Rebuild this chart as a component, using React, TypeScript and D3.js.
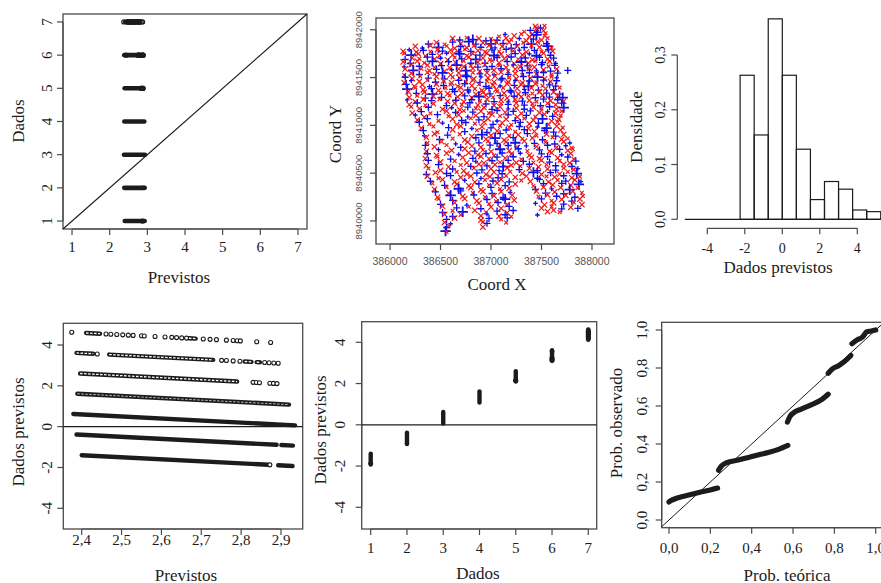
import React from "react";
import * as d3 from "d3";

const SERIF = "'Liberation Serif', 'Times New Roman', serif";
const SANS = "'Liberation Sans', Arial, sans-serif";
const INK = "#1c1c1c";
const FRAME = "#4a4a4a";

// ---------- shared data: observed class (Dados) vs predicted value (Previstos)
const dadosLevels = [1, 2, 3, 4, 5, 6, 7];
// continuous runs of predictions: [dados, previsto from, previsto to]
const denseRuns: [number, number, number][] = [
  [1, 2.4, 2.868], [1, 2.893, 2.929],
  [2, 2.387, 2.889], [2, 2.901, 2.93],
  [3, 2.379, 2.935],
  [4, 2.389, 2.92],
  [5, 2.396, 2.79],
  [6, 2.387, 2.429], [6, 2.469, 2.73], [6, 2.809, 2.826], [6, 2.839, 2.847],
  [7, 2.411, 2.446], [7, 2.669, 2.686],
];
// isolated predictions: [dados, previsto]
const loosePoints: [number, number][] = [
  [1, 2.872],
  [5, 2.83], [5, 2.838], [5, 2.846], [5, 2.872], [5, 2.881], [5, 2.89],
  [6, 2.439], [6, 2.751], [6, 2.763], [6, 2.78], [6, 2.797], [6, 2.859], [6, 2.87], [6, 2.882], [6, 2.893],
  [7, 2.375], [7, 2.461], [7, 2.473], [7, 2.488], [7, 2.503], [7, 2.517], [7, 2.529], [7, 2.55], [7, 2.557],
  [7, 2.584], [7, 2.609], [7, 2.626], [7, 2.638], [7, 2.651], [7, 2.663], [7, 2.705], [7, 2.722], [7, 2.738],
  [7, 2.763], [7, 2.78], [7, 2.79], [7, 2.798], [7, 2.839], [7, 2.874],
];

// ---------- histogram of residuals
const histBreaks = [-2.25, -1.5, -0.75, 0, 0.75, 1.5, 2.25, 3, 3.75, 4.5, 5.25];
const histDensity = [0.263, 0.154, 0.366, 0.263, 0.128, 0.036, 0.069, 0.055, 0.017, 0.014];

// ---------- probability plot runs [teórica, observado]
const probRuns: [number, number][][] = [
  [[0, 0.095], [0.01, 0.102], [0.03, 0.112], [0.06, 0.122], [0.1, 0.133], [0.15, 0.146], [0.2, 0.158], [0.235, 0.168]],
  [[0.24, 0.262], [0.255, 0.285], [0.28, 0.302], [0.33, 0.314], [0.38, 0.328], [0.43, 0.342], [0.48, 0.355], [0.53, 0.372], [0.575, 0.393]],
  [[0.573, 0.515], [0.585, 0.545], [0.6, 0.562], [0.64, 0.584], [0.69, 0.607], [0.74, 0.635], [0.77, 0.662]],
  [[0.77, 0.772], [0.79, 0.795], [0.82, 0.812], [0.85, 0.835], [0.88, 0.866]],
  [[0.885, 0.928], [0.91, 0.948], [0.935, 0.962], [0.945, 0.975], [0.955, 0.99], [0.98, 0.995], [1.0, 1.0]],
];

// ---------- spatial map: rows of north offset; tokens "eastOffset class(r/b) size northAdjust"
const EAST0 = 386000;
const NORTH0 = 8940000;
const scatterRows: [number, string][] = [
  [2030, "1440r2+5 1490b2-12 1530r1+10"],
  [2000, "1390b2-6 1450r2+14 1520r2-9"],
  [1970, "1330r1+9 1410r2-14 1460b2+4 1540r1-7"],
  [1940, "1080r1-10 1140b1+12 1230r2-4 1300r1+15 1380r2-13 1450b3+6 1530r1-2"],
  [1900, "620r2+11 690b2-7 760r1+16 820b3-3 880r2+8 950b2-15 1000r1+4 1060b2-10 1150r2+13 1200r1-5 1280b1+9 1350r2-16 1420b2+2 1500r2-8 1560r1+12"],
  [1860, "380b2-9 460r2+6 540r1-14 620b2+10 700r2-4 780b3+15 850b2-11 920r2+3 1000b3-7 1050r2+13 1120b2-2 1180r2+9 1250b2-15 1320r1+5 1400b3-10 1460r2+14 1550b2-6"],
  [1820, "250r2+7 320b1-12 400r2+15 480b3-5 560r1+10 640r2-14 700b2+3 760r2-8 830r1+12 900b2-3 980r2+16 1040b1-10 1110r2+5 1200b2-13 1260r2+9 1330b2-6 1400r1+14 1480r2-2 1560b3+8 1600r1-11"],
  [1780, "130r2-5 190b1+11 260r2-15 330b2+4 400r1-9 470r2+13 520b2-3 600r2+8 680b2-12 740r1+16 800b2-6 870r2+2 940r2-14 1010b2+10 1080r1-7 1150b2+15 1220r2-1 1280b1+7 1350r2-13 1430b2+5 1500r1-10 1570b2+12 1610r2-4"],
  [1740, "140r1+13 210b3-6 280r2+9 350r1-15 420b2+3 490r2-10 560b1+14 620r2-2 690b3+7 760r2-13 820r1+11 890b2-5 960r2+16 1030b3-9 1100r2+4 1170r1-14 1240b2+10 1310r2-3 1380b1+8 1450b3-12 1520r2+15 1590b2-7"],
  [1700, "150b2-11 220r2+6 290r1-4 370b2+14 440r2-8 500b1+2 570r2-15 640r1+10 710b2-5 780r2+13 850b3-10 920r2+4 990r1-13 1060b2+9 1130r2-2 1200b2+15 1270r1-9 1340b2+5 1410r2-14 1480b2+11 1560r2-6 1620b2+3"],
  [1660, "130r2+4 200b2-13 270r2+12 340r1-7 420b3+9 500r2-15 580b2+6 650r2-3 730r1+14 800b2-10 870r2+1 940b2-12 1010r1+16 1080r2-6 1160b2+8 1230r2-14 1300b3+3 1370r2-9 1440r1+13 1510b2-4 1580r2+10 1640b1-12"],
  [1620, "140b1-8 210r2+15 290b2-2 370r2+9 440r1-12 510b2+5 590r2-16 660b3+11 730r2-6 800r1+3 870b2-11 940r2+14 1010b2-4 1080r1+8 1150r2-14 1220b1+12 1290r2-7 1360b2+2 1430r2-10 1500b2+15 1570r1-3 1630b2+7"],
  [1580, "150r2+10 230b3-4 310r1+13 390r2-9 460b2+6 540r2-14 610b1+2 680r2+11 750b3-8 820r2+15 890r1-12 960b2+5 1030r2-3 1100b2+12 1170r1-15 1240r2+8 1310b2-6 1380r2+14 1450b1-10 1520r2+1 1590b2-13 1650r2+9 1760b2-5"],
  [1540, "140r1-13 210r2+5 290b2-8 370r2+14 440r1-3 520b3+10 600r2-12 680r2+7 750b2-15 820r1+12 890b2-1 960r2+9 1030b1-11 1100r2+16 1170b2-6 1240r2+3 1310r1-14 1380b2+10 1450r2-5 1520b2+13 1600r1-9 1660b2+6"],
  [1500, "150b2+3 220r2-10 300r1+14 380b2-6 460r2+9 540b2-13 620r1+5 690r2-2 760b3+12 830r2-15 900b1+7 970r2-4 1040r2+15 1110b2-9 1180r1+2 1250r2-12 1320b2+11 1390r2-7 1460b3+4 1530r2-14 1600r1+10 1650b1-3"],
  [1460, "140r2-14 210b1+8 290r2-1 370r1+12 450b2-9 530r2+5 610r2-15 680b2+10 750r1-4 820r2+14 890b2-11 960r1+3 1030r2-8 1100b2+16 1170r2-6 1240b1+9 1310r2-13 1380b2+4 1450r1-10 1520b2+13 1590r2-2 1650b2+7"],
  [1420, "160b2+9 240r2-11 320r2+4 390b1-15 460r2+12 530b2-3 600r1+7 670r2-12 740b2+15 810r2-5 880r1+10 950b2-14 1020r2+2 1090b1-8 1160r2+13 1230b2-1 1300r2+6 1370b3-11 1440r2+15 1510r1-6 1580b2+3 1640b2-9"],
  [1380, "170b3-2 250r1+13 330r2-8 410b2+5 480r2-14 550r1+10 620b2-4 700r2+15 770b2-10 840r1+1 910r2-13 980b2+8 1050r2-5 1120r1+12 1190b2-15 1260r2+6 1330b1-3 1400r2+11 1470b2-12 1540r2+4 1620b2-7 1680r1+14"],
  [1340, "180r2+12 260b2-5 340r2+8 420b3-13 500r1+3 570r2-9 640b2+14 710r2-2 780b1+10 850r2-15 920r2+6 990b2-10 1060r1+15 1130r2-4 1200b2+9 1270r2-13 1340b2+1 1410r1-7 1480r2+12 1550b2-3 1620r2+8 1680b2-14"],
  [1300, "190r2-7 270r1+10 350b2-15 430r2+4 510b2-9 590r1+13 670r2-3 740b2+8 810r2-12 880b3+2 950r2+15 1020r1-6 1090b2+11 1160r2-14 1230b2+5 1300r2-1 1370r1+9 1440b2-11 1510r2+14 1580b2-5 1660r2+7 1710b3-10"],
  [1260, "170b1+6 250r2-13 330r2+11 410b2-2 490r1+15 570r2-8 650b2+3 730r2-14 810b2+9 890r1-4 960r2+13 1030b2-11 1100r2+6 1170b1-15 1240r2+10 1310b2-6 1380r2+2 1450r1-12 1520b2+14 1590r2-3 1660b2+8 1720r2-9"],
  [1220, "190r2-3 270b2+14 350r1-10 430r2+7 560b2-14 640r2+11 710r1-5 790b2+16 870r2-8 950b2+3 1030r2-13 1100r1+9 1170b2-1 1250r2+12 1330b2-9 1410r1+5 1490b2-15 1560r2+10 1640r2-4 1700b2+13"],
  [1180, "210r1+15 290r2-6 380b2+9 520r2-12 610b1+4 690r2-16 770b2+11 850r1-3 930r2+7 1010b2-13 1090r2+14 1170b1-7 1250r2+2 1330b2-11 1420r2+10 1500r1-5 1580b2+15 1650r2-9 1720b3+5"],
  [1140, "220r2-11 310b2+3 400r1-14 560r2+10 650b2-6 730r1+13 820b2-1 900r2+8 980r1-12 1060b2+15 1140r2-4 1220b2+7 1300r1-15 1390b2+11 1480r2-8 1560b1+4 1640r2-13 1700r1+9"],
  [1100, "250b1+8 340r2-15 470b2+12 580r1-4 680r2+9 770b1-11 850r2+3 930b2-8 1010r2+14 1090r1-2 1170b2+10 1260r2-13 1350b2+5 1440r1-9 1530r2+15 1610b2-6 1690r1+2"],
  [1060, "270r2-4 370b2+11 480r1-13 620r2+6 710b2-9 800r1+14 880b2-3 970r2+9 1060b1-14 1150r2+4 1240b2-10 1330r1+13 1420r2-6 1510b3+8 1600r2-15 1670r2+3"],
  [1020, "290b2+13 390r1-7 520b1+4 660r2-12 750b2+10 840r1-2 930r2+15 1020b2-9 1110r2+6 1200r1-14 1290b2+11 1380r2-5 1470b2+2 1570r1-11 1660r2+14"],
  [980, "310r2-10 430r1+9 580b2-3 700r2+13 810b1-13 910r2+5 1000b2-7 1090r1+15 1180r2-1 1280b2+8 1370r2-12 1460b1+3 1550b3-9 1650r2+12 1710r1-4"],
  [940, "330b2+5 470r1-12 620r2+14 740b2-5 860r1+9 960b2-14 1060r2+2 1150b2+11 1240r1-8 1330b2+15 1430r2-3 1530b2+6 1620b2-11 1690r2+10"],
  [900, "340b1-9 440r2+12 570b2-2 690r1+8 810r2-15 910b3+4 1000r2-6 1090b2+13 1180r1-10 1270r2+1 1360b2+14 1450r1-7 1550r2+9 1640b2-13 1720r2+5"],
  [860, "360r2+14 490b2-8 620r1+2 740r2-13 850b2+10 950r2-4 1040b3+7 1130r2-15 1220b2+12 1310r1-1 1410r2+8 1510b2-11 1610r1+15 1700r2-6 1760r1+3"],
  [820, "370r1-6 510r2+10 650b1-14 770r2+5 880b2-3 970r1+13 1060b2-10 1150r2+8 1240b3-2 1330r2+15 1430b2-9 1540r1+4 1630b2-15 1720r2+11 1780b1-4"],
  [780, "350b2+11 440r2-4 560r1+15 700b2-11 810r2+3 900r2-8 990b2+13 1080r1-6 1170b2+9 1260r2-14 1350b1+5 1450r2-2 1560b2+12 1650r2-10 1740b1+7 1800r1-15"],
  [740, "360r2-12 480b1+6 610r2-2 740r2+14 840b2-9 920r1+2 1000r2-14 1090b3+10 1180r2-5 1270b2+15 1360r1-8 1480b2+4 1580r2-12 1680b2+9 1760r2-3 1810r1+13"],
  [700, "370b2+3 460r2-14 560r2+9 680b1-5 780r2+13 870r2-10 950b2+6 1030r1-15 1110b2+11 1200r2-2 1290b1+8 1380r2-13 1500b2+1 1600r2+14 1700b1-7 1790r2+5"],
  [660, "350r2-8 470r1+12 600b2-13 720r2+4 820b2-5 900r2+15 980r1-10 1060b2+7 1140r2-3 1220b2+12 1300r1-14 1400r2+6 1480r2-9 1560b2+13 1660r2-1 1760b2+9 1820r1-12"],
  [620, "380b2+13 500r2-3 640r1+8 760r2-12 850b1+2 930r2-15 1010b2+10 1090r1-6 1170b2+14 1250r2-11 1320b2+4 1420r1-8 1500r2+15 1580b2-4 1680r1+9 1780r2-13 1840b2+6"],
  [580, "360r2-1 480b2+10 580r2-14 700r1+5 800b2-9 880r2+14 960b2-4 1040r2+9 1120b3-12 1200r2+3 1290r1-7 1380b2+13 1470r2-15 1550r1+8 1640b2-2 1720r2+11 1800b2-10"],
  [540, "380r1+9 500r2-10 620b2+3 730r2-15 830r1+12 910b2-6 1000r2+7 1080b1-13 1160r2+15 1280b2-3 1380r2+10 1460b2-14 1560r2+4 1640b2-8 1720r1+13 1820r2-2 1860b1+8"],
  [500, "360b2-14 450r2+6 560b2-4 660r1+13 760r2-9 860b2+2 950r2-12 1030r2+11 1110b2-6 1190r1+15 1310r2-1 1420b3+8 1500r2-13 1590b2+5 1680r2-10 1760r1+14 1850b3-5"],
  [460, "370r2+7 480r1-12 600b2+14 700r2-5 800r2+10 900b1-15 990r2+4 1070b2-8 1150r1+12 1240r2-3 1350r2+9 1460b2-13 1550r1+6 1630r2-1 1720b2+13 1800r2-9 1880r1+3"],
  [420, "400b2-5 520r2+13 640r2-10 740b1+5 840r2-14 940r1+9 1020b2-2 1100r2+14 1180b2-11 1300r1+4 1390r2-7 1480b2+15 1570r2-12 1660r1+7 1740b2-4 1830r2+11 1890b1-8"],
  [380, "420r1+12 540b2-8 660r2+3 780r2-13 880b2+9 980r1-4 1060r2+15 1140b2-10 1240r2+6 1420r1-14 1520b2+10 1610r2-3 1700b2+13 1790r2-7 1870b3+2"],
  [340, "440r2-9 560r1+14 680b3-3 800r2+8 900r2-14 1000b2+11 1090r1-6 1180r2+2 1440b2-11 1520r2+13 1600b1-4 1690r2+9 1780b3-13 1860r1+6"],
  [300, "450b2+4 580r2-11 700b2+15 820r1-7 920r2+9 1010b2-13 1100r2+6 1190b1-2 1450r2+12 1540b2-9 1630r2+3 1720b2-15 1810r2+10 1900r1-5"],
  [260, "470r2-13 600b3+7 720r2-4 830b2+12 940r1-10 1030r2+3 1120b2-15 1210r2+10 1470r1-6 1560r2+14 1650b2-2 1740r2+8 1830b2-12 1910r1+1"],
  [220, "480r1+10 620b2-5 740r2+13 860r2-11 960b2+4 1050r1-14 1140b3+8 1230r2-3 1500b2+11 1600r1-9 1700r2+5 1800b2-13 1880r2+9"],
  [180, "500b2-6 640r2+11 760b1-14 880r2+6 980r1-2 1070b2+13 1160r2-9 1440b1+4 1530r2-12 1620r2+10 1720b2-4 1820r1+14 1900r2-10"],
  [140, "520r2+14 660b2-3 780r1+9 900b2-12 1000r2+5 1100r2-8 1180b2+12 1500r2-6 1600r1+11 1700b2-13 1790r2+3 1860b2-9"],
  [100, "520b2-11 620r1+6 720b3-4 840r2+12 950r1-9 1060b2+3 1160r2-14 1220b2+9 1560r2-2 1620r2+13 1680r1-7"],
  [60, "540r2+8 620b2-13 700r1+4 900r2-6 960b1+11 1080r2-10 1140b2+5 1200r1-14 1460b1+2"],
  [20, "560b2-4 640r2+10 900r2-12 980b2+7 1100r1-3 1160b2+12"],
  [-20, "540r2+6 600b1-9 920r1+11 960b2-5 1150r1+3"],
  [-60, "560b2-8 580r1+12 920r2-4"],
  [-110, "550b3+4 560r1-6"],
];

// ---------- tick values / labels
const p1Ticks = [1, 2, 3, 4, 5, 6, 7];
const p2XTicks = [386000, 386500, 387000, 387500, 388000];
const p2YTicks = [8940000, 8940500, 8941000, 8941500, 8942000];
const p3XTicks = [-4, -2, 0, 2, 4];
const p3YTicks = [0, 0.1, 0.2, 0.3];
const p4XTicks = [2.4, 2.5, 2.6, 2.7, 2.8, 2.9];
const resTicks = [-4, -2, 0, 2, 4];
const probTicks = [0, 0.2, 0.4, 0.6, 0.8, 1.0];
const comma = (v: number, d: number) => v.toFixed(d).replace(".", ",");

type Lin = d3.ScaleLinear<number, number>;

function Box({ x0, x1, y0, y1 }: { x0: number; x1: number; y0: number; y1: number }) {
  return <rect x={x0} y={y0} width={x1 - x0} height={y1 - y0} fill="none" stroke={FRAME} strokeWidth={1.3} />;
}

function XAxis({ s, ticks, fmt, y, labelY, size = 15, family = SERIF, color = INK, tick = 6 }: any) {
  const sc = s as Lin;
  return (
    <g>
      <line x1={sc(ticks[0])} x2={sc(ticks[ticks.length - 1])} y1={y} y2={y} stroke={FRAME} strokeWidth={1.2} />
      {ticks.map((t: number, i: number) => (
        <g key={i}>
          <line x1={sc(t)} x2={sc(t)} y1={y} y2={y + tick} stroke={FRAME} strokeWidth={1.2} />
          <text x={sc(t)} y={labelY} textAnchor="middle" dominantBaseline="central" fontFamily={family} fontSize={size} fill={color}>
            {fmt(t)}
          </text>
        </g>
      ))}
    </g>
  );
}

function YAxis({ s, ticks, fmt, x, labelX, size = 15, family = SERIF, color = INK, tick = 6 }: any) {
  const sc = s as Lin;
  return (
    <g>
      <line y1={sc(ticks[0])} y2={sc(ticks[ticks.length - 1])} x1={x} x2={x} stroke={FRAME} strokeWidth={1.2} />
      {ticks.map((t: number, i: number) => (
        <g key={i}>
          <line y1={sc(t)} y2={sc(t)} x1={x} x2={x - tick} stroke={FRAME} strokeWidth={1.2} />
          <text transform={`translate(${labelX},${sc(t)}) rotate(-90)`} textAnchor="middle" dominantBaseline="central" fontFamily={family} fontSize={size} fill={color}>
            {fmt(t)}
          </text>
        </g>
      ))}
    </g>
  );
}

function Title({ x, y, text, rotate = false, size = 17 }: { x: number; y: number; text: string; rotate?: boolean; size?: number }) {
  return (
    <text transform={`translate(${x},${y})${rotate ? " rotate(-90)" : ""}`} textAnchor="middle" dominantBaseline="central" fontFamily={SERIF} fontSize={size} fill={INK}>
      {text}
    </text>
  );
}

export default function App() {
  // ---- panel 1: Dados vs Previstos
  const b1 = { x0: 63, x1: 307, y0: 14, y1: 229 };
  const x1s = d3.scaleLinear().domain([0.76, 7.24]).range([b1.x0, b1.x1]);
  const y1s = d3.scaleLinear().domain([0.76, 7.24]).range([b1.y1, b1.y0]);

  // ---- panel 2: map
  const b2 = { x0: 376, x1: 614, y0: 18, y1: 244 };
  const x2s = d3.scaleLinear().domain([385861, 388218]).range([b2.x0, b2.x1]);
  const y2s = d3.scaleLinear().domain([8939759, 8942123]).range([b2.y1, b2.y0]);
  const scatterPoints = scatterRows.flatMap(([dn, str]) =>
    str.split(" ").map((tok) => {
      const m = tok.match(/^(-?\d+)([rb])(\d)([+-]\d+)?$/)!;
      return { e: EAST0 + Number(m[1]), n: NORTH0 + dn + (m[4] ? Number(m[4]) : 0), kind: m[2], size: Number(m[3]) };
    })
  );

  // ---- panel 3: histogram
  const x3s = d3.scaleLinear().domain([-4, 4]).range([707.3, 857.3]);
  const y3s = d3.scaleLinear().domain([0, 0.3]).range([219.3, 55]);

  // ---- panel 4: residual vs previstos
  const b4 = { x0: 63.3, x1: 302.7, y0: 323.3, y1: 529 };
  const x4s = d3.scaleLinear().domain([2.4, 2.9]).range([81.7, 281]);
  const y4s = d3.scaleLinear().domain([-4, 4]).range([508.3, 345]);

  // ---- panel 5: residual vs dados
  const b5 = { x0: 361.7, x1: 596.7, y0: 321.7, y1: 529 };
  const x5s = d3.scaleLinear().domain([1, 7]).range([370.7, 588.3]);
  const y5s = d3.scaleLinear().domain([-4, 4]).range([507.3, 342.3]);

  // ---- panel 6: probability plot
  const b6 = { x0: 661.7, x1: 884, y0: 322.3, y1: 527.7 };
  const x6s = d3.scaleLinear().domain([0, 1]).range([669, 875.7]);
  const y6s = d3.scaleLinear().domain([0, 1]).range([520, 330]);
  const probLine = d3.line<[number, number]>().x((d) => x6s(d[0])).y((d) => y6s(d[1])).curve(d3.curveMonotoneX);

  const plusArm = [0, 2.3, 3.5, 5.2];
  const crossArm = [0, 1.9, 2.7, 3.7];
  const innerWidth = (lv: number) => (lv >= 5 ? 1.3 : lv === 4 ? 0.7 : 0);

  return (
    <svg width={881} height={583} style={{ position: "absolute", left: 0, top: 0, background: "#fff" }}>
      <rect width={881} height={583} fill="#fff" />

      {/* ===== Panel 1 ===== */}
      <Box {...b1} />
      <XAxis s={x1s} ticks={p1Ticks} fmt={(t: number) => String(t)} y={b1.y1} labelY={247} />
      <YAxis s={y1s} ticks={p1Ticks} fmt={(t: number) => String(t)} x={b1.x0} labelX={46.5} />
      <Title x={179} y={277} text="Previstos" />
      <Title x={18.5} y={121} text="Dados" rotate />
      <line x1={x1s(0.76)} y1={y1s(0.76)} x2={x1s(7.24)} y2={y1s(7.24)} stroke={INK} strokeWidth={1.1} />
      {denseRuns.map(([lv, a, b], i) => (
        <line key={i} x1={x1s(a)} x2={x1s(b)} y1={y1s(lv)} y2={y1s(lv)} stroke={INK} strokeWidth={4.6} strokeLinecap="round" />
      ))}
      {loosePoints.map(([lv, p], i) => (
        <circle key={i} cx={x1s(p)} cy={y1s(lv)} r={2} fill="none" stroke={INK} strokeWidth={1.2} />
      ))}

      {/* ===== Panel 2 ===== */}
      <Box {...b2} />
      <XAxis s={x2s} ticks={p2XTicks} fmt={(t: number) => String(t)} y={b2.y1} labelY={261} size={10.5} family={SANS} color="#555" />
      <YAxis s={y2s} ticks={p2YTicks} fmt={(t: number) => String(t)} x={b2.x0} labelX={358} size={9.5} family={SANS} color="#555" />
      <Title x={497} y={284} text="Coord X" />
      <Title x={335} y={134} text="Coord Y" rotate />
      {scatterPoints.map((p, i) => {
        const cx = x2s(p.e);
        const cy = y2s(p.n);
        if (p.kind === "b") {
          const s = plusArm[p.size];
          return <path key={i} d={`M${cx - s},${cy}L${cx + s},${cy}M${cx},${cy - s}L${cx},${cy + s}`} stroke="#1010e6" strokeWidth={p.size === 3 ? 1.8 : 1.35} fill="none" />;
        }
        const s = crossArm[p.size];
        return <path key={i} d={`M${cx - s},${cy - s}L${cx + s},${cy + s}M${cx - s},${cy + s}L${cx + s},${cy - s}`} stroke="#f01818" strokeWidth={p.size === 3 ? 1.5 : 1.2} fill="none" />;
      })}

      {/* ===== Panel 3 ===== */}
      <line x1={x3s(-5.2)} x2={x3s(5.6)} y1={y3s(0)} y2={y3s(0)} stroke={INK} strokeWidth={1.3} />
      {histDensity.map((d, i) => (
        <rect key={i} x={x3s(histBreaks[i])} width={x3s(histBreaks[i + 1]) - x3s(histBreaks[i])} y={y3s(d)} height={y3s(0) - y3s(d)} fill="none" stroke={INK} strokeWidth={1.2} />
      ))}
      <XAxis s={x3s} ticks={p3XTicks} fmt={(t: number) => String(t)} y={228.3} labelY={248} size={14} />
      <YAxis s={y3s} ticks={p3YTicks} fmt={(t: number) => comma(t, 1)} x={677.3} labelX={660} size={14} />
      <Title x={778} y={267} text="Dados previstos" />
      <Title x={636.5} y={127} text="Densidade" rotate />

      {/* ===== Panel 4 ===== */}
      <Box {...b4} />
      <XAxis s={x4s} ticks={p4XTicks} fmt={(t: number) => comma(t, 1)} y={b4.y1} labelY={540} />
      <YAxis s={y4s} ticks={resTicks} fmt={(t: number) => String(t)} x={b4.x0} labelX={46.5} />
      <Title x={186} y={575} text="Previstos" />
      <Title x={18} y={432} text="Dados previstos" rotate />
      <line x1={b4.x0} x2={b4.x1} y1={y4s(0)} y2={y4s(0)} stroke={INK} strokeWidth={1.1} />
      {denseRuns.map(([lv, a, b], i) => (
        <g key={i}>
          <line x1={x4s(a)} x2={x4s(b)} y1={y4s(lv - a)} y2={y4s(lv - b)} stroke={INK} strokeWidth={4.4} strokeLinecap="round" />
          {innerWidth(lv) > 0 && (
            <line x1={x4s(a)} x2={x4s(b)} y1={y4s(lv - a)} y2={y4s(lv - b)} stroke="#fff" strokeWidth={innerWidth(lv)} strokeDasharray="2.5 1.5" />
          )}
        </g>
      ))}
      {loosePoints.map(([lv, p], i) => (
        <circle key={i} cx={x4s(p)} cy={y4s(lv - p)} r={2} fill="#fff" stroke={INK} strokeWidth={1.1} />
      ))}

      {/* ===== Panel 5 ===== */}
      <Box {...b5} />
      <XAxis s={x5s} ticks={dadosLevels} fmt={(t: number) => String(t)} y={b5.y1} labelY={548} />
      <YAxis s={y5s} ticks={resTicks} fmt={(t: number) => String(t)} x={b5.x0} labelX={340} />
      <Title x={478} y={573} text="Dados" />
      <Title x={320} y={430} text="Dados previstos" rotate />
      <line x1={b5.x0} x2={b5.x1} y1={y5s(0)} y2={y5s(0)} stroke={INK} strokeWidth={1.2} />
      {denseRuns.map(([lv, a, b], i) => (
        <line key={i} x1={x5s(lv)} x2={x5s(lv)} y1={y5s(lv - a)} y2={y5s(lv - b)} stroke={INK} strokeWidth={4.4} strokeLinecap="round" />
      ))}
      {loosePoints.map(([lv, p], i) => (
        <circle key={i} cx={x5s(lv)} cy={y5s(lv - p)} r={2} fill={INK} stroke={INK} strokeWidth={0.6} />
      ))}

      {/* ===== Panel 6 ===== */}
      <Box {...b6} />
      <XAxis s={x6s} ticks={probTicks} fmt={(t: number) => comma(t, 1)} y={b6.y1} labelY={548} />
      <YAxis s={y6s} ticks={probTicks} fmt={(t: number) => comma(t, 1)} x={b6.x0} labelX={641.5} />
      <Title x={787} y={575} text="Prob. teórica" />
      <Title x={616.5} y={423} text="Prob. observado" rotate />
      <line x1={x6s(-0.036)} y1={y6s(-0.036)} x2={x6s(1.05)} y2={y6s(1.05)} stroke={INK} strokeWidth={1} />
      {probRuns.map((run, i) => (
        <path key={i} d={probLine(run) || ""} fill="none" stroke={INK} strokeWidth={5.2} strokeLinecap="round" strokeLinejoin="round" />
      ))}
    </svg>
  );
}
